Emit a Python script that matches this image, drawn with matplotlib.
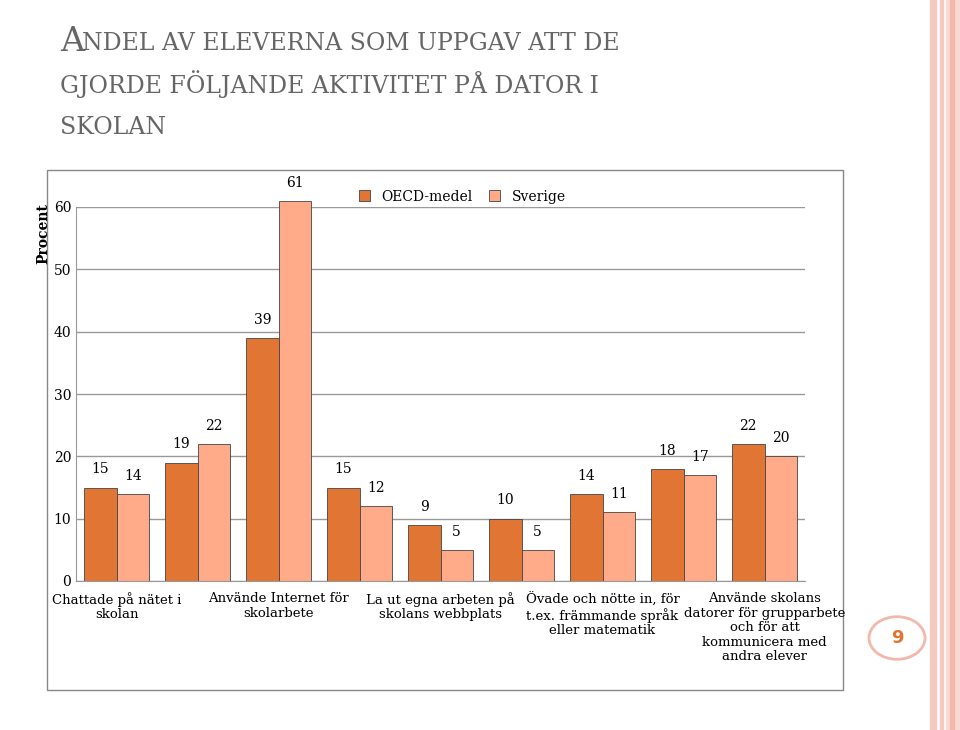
import matplotlib
matplotlib.use("Agg")
import matplotlib.pyplot as plt
import numpy as np
from matplotlib.patches import Rectangle, Circle

categories = ["Chattade på nätet i\nskolan", "",
              "Använde Internet för\nskolarbete", "",
              "La ut egna arbeten på\nskolans webbplats", "",
              "Övade och nötte in, för\nt.ex. främmande språk\neller matematik", "",
              "Använde skolans\ndatorer för grupparbete\noch för att\nkommunicera med\nandra elever"]
oecd = [15, 19, 39, 15, 9, 10, 14, 18, 22]
sverige = [14, 22, 61, 12, 5, 5, 11, 17, 20]
oecd_labels = ["15", "19", "39", "15", "9", "10", "14", "18", "22"]
sve_labels = ["14", "22", "61", "12", "5", "5", "11", "17", "20"]
yticks = [0, 10, 20, 30, 40, 50, 60]

W, H = 960, 730
fig = plt.figure(figsize=(9.6, 7.3), dpi=100)
plt.rcParams["font.family"] = "DejaVu Serif"

# slide decorations
for x0, w, c in [(930, 6, "#F6C9C0"), (940, 3, "#F6C9C0"), (946, 14, "#F9DAD3"), (950, 4, "#F2B8AC")]:
    fig.patches.append(Rectangle((x0 / W, 0), w / W, 1, transform=fig.transFigure,
                                 color=c, zorder=0))
fig.patches.append(Circle((897 / W, 1 - 638 / H), 28 / W, transform=fig.transFigure,
                          facecolor="white", edgecolor="#F2B8AC", lw=2, zorder=2))
fig.text(897 / W, 1 - 638 / H, "9", ha="center", va="center", color="#E07534",
         fontsize=13, fontweight="bold", family="DejaVu Sans")
fig.text(60 / W, 1 - 42 / H, "A", fontsize=24, color="#666666", va="center")
fig.text(82 / W, 1 - 44 / H, "NDEL AV ELEVERNA SOM UPPGAV ATT DE", fontsize=17, color="#666666", va="center")
fig.text(60 / W, 1 - 84 / H, "GJORDE FÖLJANDE AKTIVITET PÅ DATOR I", fontsize=17, color="#666666", va="center")
fig.text(60 / W, 1 - 128 / H, "SKOLAN", fontsize=17, color="#666666", va="center")

# chart frame
fig.patches.append(Rectangle((47 / W, 1 - 690 / H), 796 / W, 520 / H, transform=fig.transFigure,
                             facecolor="white", edgecolor="#888888", lw=1, zorder=1))

ax = fig.add_axes([76 / W, 1 - 581 / H, 729 / W, 374 / H], zorder=3)
ax.set_facecolor("none")
x = np.arange(len(oecd))
bw = 0.4
b1 = ax.bar(x - bw / 2, oecd, bw, color="#E07534", edgecolor="#444444", lw=0.6,
            label="OECD-medel", clip_on=False)
b2 = ax.bar(x + bw / 2, sverige, bw, color="#FFAA88", edgecolor="#444444", lw=0.6,
            label="Sverige", clip_on=False)
for i in range(len(x)):
    ax.text(x[i] - bw / 2, oecd[i] + 1.8, oecd_labels[i], ha="center", va="bottom", fontsize=10)
    ax.text(x[i] + bw / 2, sverige[i] + 1.8, sve_labels[i], ha="center", va="bottom", fontsize=10)
ax.set_xlim(-0.5, len(x) - 0.5)
ax.set_ylim(0, 60)
ax.set_yticks(yticks)
ax.tick_params(axis="y", length=0, labelsize=10)
ax.grid(axis="y", color="#999999", lw=1)
ax.set_axisbelow(True)
for s in ["top", "right"]:
    ax.spines[s].set_visible(False)
ax.spines["left"].set_color("#999999")
ax.spines["bottom"].set_color("#999999")
ax.set_xticks(x)
ax.set_xticklabels(categories, fontsize=9.5, linespacing=1.15)
ax.tick_params(axis="x", length=0, pad=8)
ax.set_ylabel("Procent", fontsize=10, fontweight="bold")
ax.yaxis.set_label_coords(-0.035, 0.93)
ax.legend(loc="upper center", bbox_to_anchor=(0.53, 1.08), ncol=2, frameon=False,
          fontsize=10, handlelength=0.8, handleheight=0.8, columnspacing=1.2)

fig.savefig("out.png", dpi=100)
